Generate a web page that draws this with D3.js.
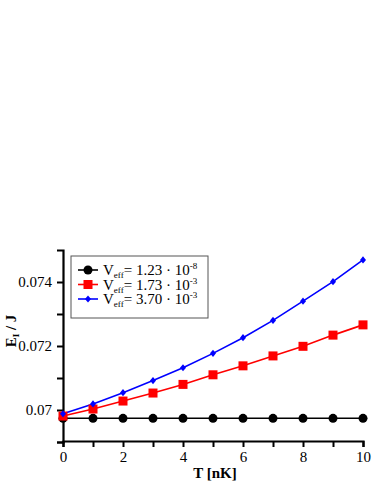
<!DOCTYPE html>
<html>
<head>
<meta charset="utf-8">
<script src="https://cdn.jsdelivr.net/npm/d3@7"></script>
<style>
  body { margin: 0; background: #fff; }
</style>
</head>
<body>
<div id="chart"></div>
<script>
// Dữ liệu
const temps = [0, 1, 2, 3, 4, 5, 6, 7, 8, 9, 10];
const energyLow = [0.06974, 0.06974, 0.06974, 0.06974, 0.06974, 0.06974, 0.06974, 0.06974, 0.06974, 0.06974, 0.06974];
const energyMid = [0.06981, 0.07003, 0.07028, 0.07053, 0.0708, 0.0711, 0.07138, 0.07169, 0.07199, 0.07234, 0.07266];
const energyHigh = [0.06988, 0.07019, 0.07054, 0.07092, 0.07132, 0.07177, 0.07226, 0.0728, 0.0734, 0.07401, 0.07469];
const seriesNames = ['1.23 · 10', '1.73 · 10', '3.70 · 10'];
const seriesExp = ['-8', '-3', '-3'];
const seriesColors = ['#000000', '#ff0000', '#0000ff'];
const xTickValues = [0, 1, 2, 3, 4, 5, 6, 7, 8, 9, 10];
const yTickValues = [0.069, 0.07, 0.071, 0.072, 0.073, 0.074];
const yTickLabels = ['', '0.07', '', '0.072', '', '0.074'];

const FONT = 'Liberation Serif';
const width = 374, height = 484;
const svg = d3.select('#chart').append('svg')
    .attr('width', width)
    .attr('height', height);

const x = d3.scaleLinear().domain([0, 10]).range([63, 363]);
const y = d3.scaleLinear().domain([0.069, 0.075]).range([442, 250]);

// Trục x
const xAxis = svg.append('g')
    .attr('transform', 'translate(0,441)')
    .call(d3.axisBottom(x).tickValues(xTickValues)
        .tickFormat(d => d % 2 === 0 ? d : '')
        .tickSizeOuter(0).tickSize(6).tickPadding(4));
xAxis.select('.domain').attr('stroke-width', 2.2);
xAxis.selectAll('.tick line').attr('stroke-width', 2);
xAxis.selectAll('text').attr('font-size', 15).attr('fill', '#000').style('font-family', FONT);

// Trục y
const yAxis = svg.append('g')
    .attr('transform', 'translate(63,0)')
    .call(d3.axisLeft(y).tickValues(yTickValues)
        .tickFormat((d, i) => yTickLabels[i])
        .tickSizeOuter(0).tickSize(6).tickPadding(5));
yAxis.select('.domain').attr('stroke-width', 2.2);
yAxis.selectAll('.tick line').attr('stroke-width', 2);
yAxis.selectAll('text').attr('font-size', 15).attr('fill', '#000').style('font-family', FONT);

// Nhãn trục
svg.append('text')
    .attr('x', 215).attr('y', 478)
    .attr('text-anchor', 'middle')
    .attr('font-weight', 'bold')
    .attr('font-size', 15)
    .style('font-family', FONT)
    .text('T [nK]');

const yLabel = svg.append('text')
    .attr('transform', 'translate(16,331) rotate(-90)')
    .attr('text-anchor', 'middle')
    .attr('font-weight', 'bold')
    .attr('font-size', 15)
    .style('font-family', FONT);
yLabel.append('tspan').text('E');
yLabel.append('tspan').attr('font-size', 9).attr('dy', 3).text('I');
yLabel.append('tspan').attr('dy', -3).text(' / J');

// Vẽ đường
const allSeries = [energyLow, energyMid, energyHigh];
const line = d3.line().x((d, i) => x(temps[i])).y(d => y(d));

allSeries.forEach((vals, s) => {
    svg.append('path')
        .datum(vals)
        .attr('fill', 'none')
        .attr('stroke', seriesColors[s])
        .attr('stroke-width', 1.6)
        .attr('d', line);
});

function drawMarker(g, s, cx, cy) {
    if (s === 0) {
        g.append('circle').attr('cx', cx).attr('cy', cy).attr('r', 4.5).attr('fill', seriesColors[s]);
    } else if (s === 1) {
        g.append('rect').attr('x', cx - 4.5).attr('y', cy - 4.5).attr('width', 9).attr('height', 9).attr('fill', seriesColors[s]);
    } else {
        g.append('path')
            .attr('d', `M${cx},${cy - 3.6}L${cx + 3},${cy}L${cx},${cy + 3.6}L${cx - 3},${cy}Z`)
            .attr('fill', seriesColors[s]);
    }
}

const marks = svg.append('g');
allSeries.forEach((vals, s) => {
    vals.forEach((v, i) => drawMarker(marks, s, x(temps[i]), y(v)));
});

// Chú thích
const legend = svg.append('g');
legend.append('rect')
    .attr('x', 71).attr('y', 256)
    .attr('width', 137).attr('height', 62)
    .attr('fill', '#fff')
    .attr('stroke', '#555')
    .attr('stroke-width', 1);

seriesNames.forEach((name, s) => {
    const ly = 270 + s * 14.5;
    legend.append('line')
        .attr('x1', 78).attr('x2', 98)
        .attr('y1', ly).attr('y2', ly)
        .attr('stroke', seriesColors[s])
        .attr('stroke-width', 1.6);
    drawMarker(legend, s, 88, ly);
    const t = legend.append('text')
        .attr('x', 103).attr('y', ly + 5)
        .attr('font-size', 15)
        .style('font-family', FONT);
    t.append('tspan').text('V');
    t.append('tspan').attr('font-size', 9).attr('dy', 3).text('eff');
    t.append('tspan').attr('dy', -3).text('= ' + name);
    t.append('tspan').attr('font-size', 9).attr('dy', -6).text(seriesExp[s]);
});
</script>
</body>
</html>
